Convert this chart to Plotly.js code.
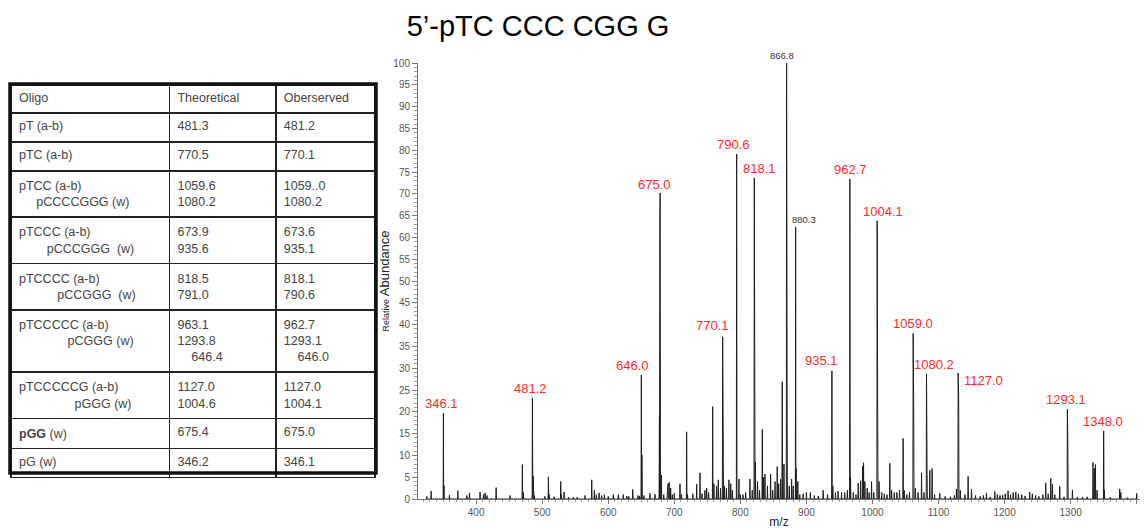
<!DOCTYPE html>
<html>
<head>
<meta charset="utf-8">
<script src="https://cdn.plot.ly/plotly-3.0.1.min.js"></script>
<style>html,body{margin:0;padding:0;background:#fff;}#chart{width:1146px;height:529px;}</style>
</head>
<body>
<div id="chart"></div>
<script>
// ---------------- DATA ----------------
// Labelled peaks (position/height, label text as printed)
const labeledMz   = [350.5, 485.2, 650.1, 678.6, 773.2, 794.4, 821.1, 870.0, 883.7, 938.6, 965.8, 1007.1, 1061.6, 1081.8, 1129.7, 1295.1, 1350.0];
const labeledInt  = [19.7, 23.2, 28.4, 70.2, 37.2, 79.1, 73.6, 100, 62.4, 29.4, 73.4, 63.8, 38.0, 28.7, 28.9, 20.6, 15.6];
const labeledText = ['346.1', '481.2', '646.0', '675.0', '770.1', '790.6', '818.1', '866.8', '880.3', '935.1', '962.7', '1004.1', '1059.0', '1080.2', '1127.0', '1293.1', '1348.0'];
const labeledKind = ['red', 'red', 'red', 'red', 'red', 'red', 'red', 'gray', 'gray', 'red', 'red', 'red', 'red', 'red', 'red', 'red', 'red'];

// Other (unlabelled) peaks
const minorMz = [325.4, 331.9, 351.3, 359.6, 372.3, 386.0, 389.9, 406.0, 411.0, 413.6, 416.5, 430.3, 451.4, 470.0, 471.5, 486.3, 488.0, 504.0, 509.4, 510.5, 518.0, 528.1, 529.0, 533.1, 540.0, 547.2, 553.0, 564.9, 575.0, 579.0, 582.0, 586.1, 590.0, 594.1, 600.0, 607.7, 615.3, 622.8, 628.0, 631.0, 637.1, 645.0, 647.5, 651.0, 654.0, 663.2, 670.8,
  677.5, 678.0, 680.5, 684.0, 689.4, 690.5, 692.3, 694.5, 697.0, 700.0, 708.6, 711.0, 718.7, 720.0, 728.0, 733.9, 738.9, 742.0, 746.4, 749.0, 752.0, 758.1, 760.0, 764.0, 766.6, 770.0, 774.0, 776.0, 779.0, 782.7, 785.5, 788.0, 797.9, 800.0, 804.0, 808.0, 814.5, 818.0, 821.8, 822.8, 826.0, 829.0, 833.2, 835.0, 837.2, 841.0, 845.8, 849.0, 852.5, 855.8, 858.0, 861.0, 863.4, 866.0, 870.8, 874.0, 877.6, 880.0, 884.5, 887.0, 890.0, 895.0, 900.0, 906.0, 912.0, 918.0, 925.4, 932.0, 940.0, 944.0, 948.0, 953.2, 958.0, 962.0, 966.8, 971.0, 975.0, 978.4, 982.0, 985.0, 986.5, 988.5, 992.0, 995.0, 998.6, 1002.0, 1007.9, 1010.0, 1014.0, 1018.0, 1022.0, 1026.3, 1029.0, 1033.0, 1037.0, 1041.0, 1046.4, 1048.0, 1052.0, 1056.0, 1062.4, 1065.0, 1069.0, 1074.3, 1078.0, 1082.6, 1086.8, 1090.3, 1094.0, 1101.9, 1110.0, 1118.0, 1124.0, 1127.2, 1130.5, 1133.0, 1140.0, 1144.8, 1149.9, 1156.0, 1163.0, 1168.0, 1172.6, 1178.0, 1185.2, 1189.0, 1193.0, 1197.0, 1201.0, 1205.3, 1209.0, 1213.0, 1217.0, 1221.0, 1226.0, 1231.0, 1238.0, 1242.0, 1247.0, 1252.0, 1258.0, 1262.3, 1266.0, 1269.9, 1272.4, 1276.0, 1283.5, 1290.0, 1295.8, 1302.7, 1310.0, 1318.0, 1325.0, 1333.9, 1336.0, 1337.5, 1340.0, 1351.0, 1360.0, 1374.3, 1376.0, 1386.0, 1400.0];
const minorInt = [0.6, 1.8, 3.1, 0.9, 1.9, 0.8, 1.4, 1.6, 1.0, 1.4, 0.8, 2.6, 0.8, 7.9, 1.5, 5.3, 0.8, 0.6, 5.1, 1.0, 0.5, 4.0, 1.0, 1.6, 0.4, 0.4, 0.4, 0.8, 4.4, 2.0, 1.0, 1.4, 0.8, 1.0, 0.6, 1.0, 1.0, 1.0, 0.7, 0.6, 2.2, 0.8, 0.7, 10.1, 0.8, 1.3, 1.1,
  19.3, 63.0, 5.5, 1.0, 3.0, 3.5, 3.8, 2.5, 1.0, 1.3, 3.5, 1.0, 15.4, 1.0, 1.2, 3.4, 6.0, 1.2, 2.0, 2.5, 1.5, 21.2, 3.5, 3.0, 4.4, 2.5, 16.0, 3.0, 2.5, 4.4, 3.5, 2.0, 4.6, 1.0, 1.0, 1.5, 4.6, 2.0, 31.0, 8.5, 4.0, 2.0, 16.0, 5.0, 5.7, 3.0, 5.7, 2.0, 4.0, 7.4, 3.5, 4.5, 26.9, 8.0, 24.0, 3.0, 4.6, 3.0, 7.0, 4.0, 1.0, 1.2, 1.5, 1.5, 0.8, 0.7, 2.0, 1.0, 3.0, 1.5, 1.8, 1.5, 1.5, 2.0, 5.0, 1.5, 1.0, 3.6, 4.2, 7.5, 8.3, 4.0, 2.5, 1.5, 4.0, 1.5, 20.0, 4.0, 1.5, 1.2, 1.0, 8.2, 2.0, 1.5, 1.5, 2.0, 13.9, 2.0, 1.0, 1.5, 21.0, 2.5, 1.5, 6.0, 1.5, 8.0, 6.6, 7.0, 1.0, 1.3, 0.6, 0.5, 0.8, 2.3, 24.0, 2.0, 1.0, 5.2, 2.3, 0.8, 0.6, 0.8, 1.4, 0.5, 1.7, 1.0, 0.8, 0.9, 1.2, 1.9, 1.0, 1.5, 1.6, 1.2, 1.0, 0.7, 1.6, 1.2, 0.8, 0.6, 1.0, 3.7, 1.2, 4.7, 3.4, 1.0, 2.9, 0.5, 12.0, 2.1, 0.4, 0.5, 0.5, 8.4, 7.0, 7.9, 2.0, 2.0, 0.4, 2.3, 1.5, 0.3, 1.3];

// Table contents
const NB = '\u00a0';
const tableHeader = ['Oligo', 'Theoretical', 'Oberserved'];
const oligoCol = [
  'pT (a-b)',
  'pTC (a-b)',
  'pTCC (a-b)<br>' + NB.repeat(5) + 'pCCCCGGG (w)',
  'pTCCC (a-b)<br>' + NB.repeat(8) + 'pCCCGGG' + NB + NB + '(w)',
  'pTCCCC (a-b)<br>' + NB.repeat(11) + 'pCCGGG' + NB + NB + '(w)',
  'pTCCCCC (a-b)<br>' + NB.repeat(14) + 'pCGGG (w)<br>' + NB,
  'pTCCCCCG (a-b)<br>' + NB.repeat(16) + 'pGGG (w)',
  '<b>pGG</b> (w)',
  'pG (w)'
];
const theoreticalCol = ['481.3', '770.5', '1059.6<br>1080.2', '673.9<br>935.6', '818.5<br>791.0', '963.1<br>1293.8<br>' + NB.repeat(4) + '646.4', '1127.0<br>1004.6', '675.4', '346.2'];
const observedCol    = ['481.2', '770.1', '1059..0<br>1080.2', '673.6<br>935.1', '818.1<br>790.6', '962.7<br>1293.1<br>' + NB.repeat(4) + '646.0', '1127.0<br>1004.1', '675.0', '346.1'];

const chartTitle = '5\u2019-pTC CCC CGG G';
const xTitle = 'm/z';
const yTitle = '<span style="font-size:9px">Relative</span> Abundance';

// ---------------- BUILD ----------------
const W = 1146, H = 529;
const px = v => v / W;
const py = v => 1 - v / H;

const allPeaks = labeledMz.map((m, i) => [m, labeledInt[i]])
  .concat(minorMz.map((m, i) => [m, minorInt[i]]))
  .sort((a, b) => a[0] - b[0]);
const specX = [], specY = [];
const hw = 0.45;
allPeaks.forEach(([m, h]) => {
  specX.push(m - hw, m, m + hw);
  specY.push(0, h, 0);
});

const FONT = 'Liberation Sans, Arial, sans-serif';

// label nudges in pixels [dx, dy]
const labelNudge = {
  '346.1': [-2, 0], '481.2': [-2, 0], '646.0': [-9, 0], '675.0': [-6, -1], '770.1': [-10, 2],
  '790.6': [-3, 0], '818.1': [5, 0], '866.8': [-5, 0], '880.3': [8, 0], '935.1': [-10, 1],
  '962.7': [1, 0], '1004.1': [6, 0], '1059.0': [0, 0], '1080.2': [7, 0], '1127.0': [25, -17],
  '1293.1': [-1, 0], '1348.0': [-1, 0]
};

const annotations = labeledText.map((t, i) => {
  const red = labeledKind[i] === 'red';
  const n = labelNudge[t] || [0, 0];
  return {
    x: labeledMz[i], y: labeledInt[i], xref: 'x', yref: 'y',
    text: t, showarrow: false, xanchor: 'center', yanchor: 'bottom',
    xshift: n[0], yshift: n[1],
    font: {family: FONT, size: red ? 13 : 9.5, color: red ? '#ff2b2b' : '#333'}
  };
});

const traces = [
  {
    type: 'scatter', mode: 'lines', x: specX, y: specY,
    line: {color: '#1e1e1e', width: 1}, hoverinfo: 'skip', showlegend: false,
    xaxis: 'x', yaxis: 'y'
  },
  {
    type: 'table',
    domain: {x: [px(11), px(376)], y: [0, py(85)]},
    columnwidth: [158, 106, 99],
    header: {
      values: tableHeader, align: 'left', height: 28,
      font: {family: FONT, size: 12.5, color: '#444'},
      fill: {color: 'rgba(0,0,0,0)'}, line: {color: '#222', width: 1.6}
    },
    cells: {
      values: [oligoCol, theoreticalCol, observedCol], align: 'left', height: 29,
      font: {family: FONT, size: 12.5, color: '#444'},
      fill: {color: 'rgba(0,0,0,0)'}, line: {color: '#222', width: 1.6}
    }
  }
];

const layout = {
  width: W, height: H,
  margin: {l: 0, r: 0, t: 0, b: 0},
  paper_bgcolor: '#fff', plot_bgcolor: '#fff',
  showlegend: false,
  title: {
    text: chartTitle, xref: 'paper', yref: 'paper', x: px(538), y: py(26),
    xanchor: 'center', yanchor: 'middle',
    font: {family: FONT, size: 29, color: '#000'}
  },
  xaxis: {
    domain: [px(418), px(1140)], range: [312, 1405], anchor: 'y',
    showline: true, linecolor: '#777', linewidth: 1,
    ticks: 'outside', ticklen: 4, tickcolor: '#777', tickwidth: 1,
    tick0: 0, dtick: 100,
    minor: {ticks: 'outside', dtick: 10, ticklen: 2, tickcolor: '#999', tickwidth: 1, showgrid: false},
    showgrid: false, zeroline: false, automargin: false,
    tickfont: {family: FONT, size: 10, color: '#555'},
    title: {text: xTitle, font: {family: FONT, size: 12, color: '#222'}, standoff: 4}
  },
  yaxis: {
    domain: [py(499), py(63)], range: [0, 100], anchor: 'x',
    showline: true, linecolor: '#777', linewidth: 1,
    ticks: 'outside', ticklen: 5, tickcolor: '#777', tickwidth: 1,
    tick0: 0, dtick: 5,
    minor: {ticks: 'outside', dtick: 1, ticklen: 3, tickcolor: '#999', tickwidth: 1, showgrid: false},
    showgrid: false, zeroline: false, automargin: false,
    tickfont: {family: FONT, size: 10, color: '#555'},
    title: {text: yTitle, font: {family: FONT, size: 13, color: '#222'}, standoff: 0}
  },
  shapes: [
    {type: 'rect', xref: 'paper', yref: 'paper', x0: px(10), x1: px(376), y0: py(473), y1: py(84),
     line: {color: '#111', width: 3.5}, fillcolor: 'rgba(0,0,0,0)', layer: 'above'}
  ],
  annotations: annotations
};

Plotly.newPlot('chart', traces, layout, {displayModeBar: false, staticPlot: true});
</script>
</body>
</html>
